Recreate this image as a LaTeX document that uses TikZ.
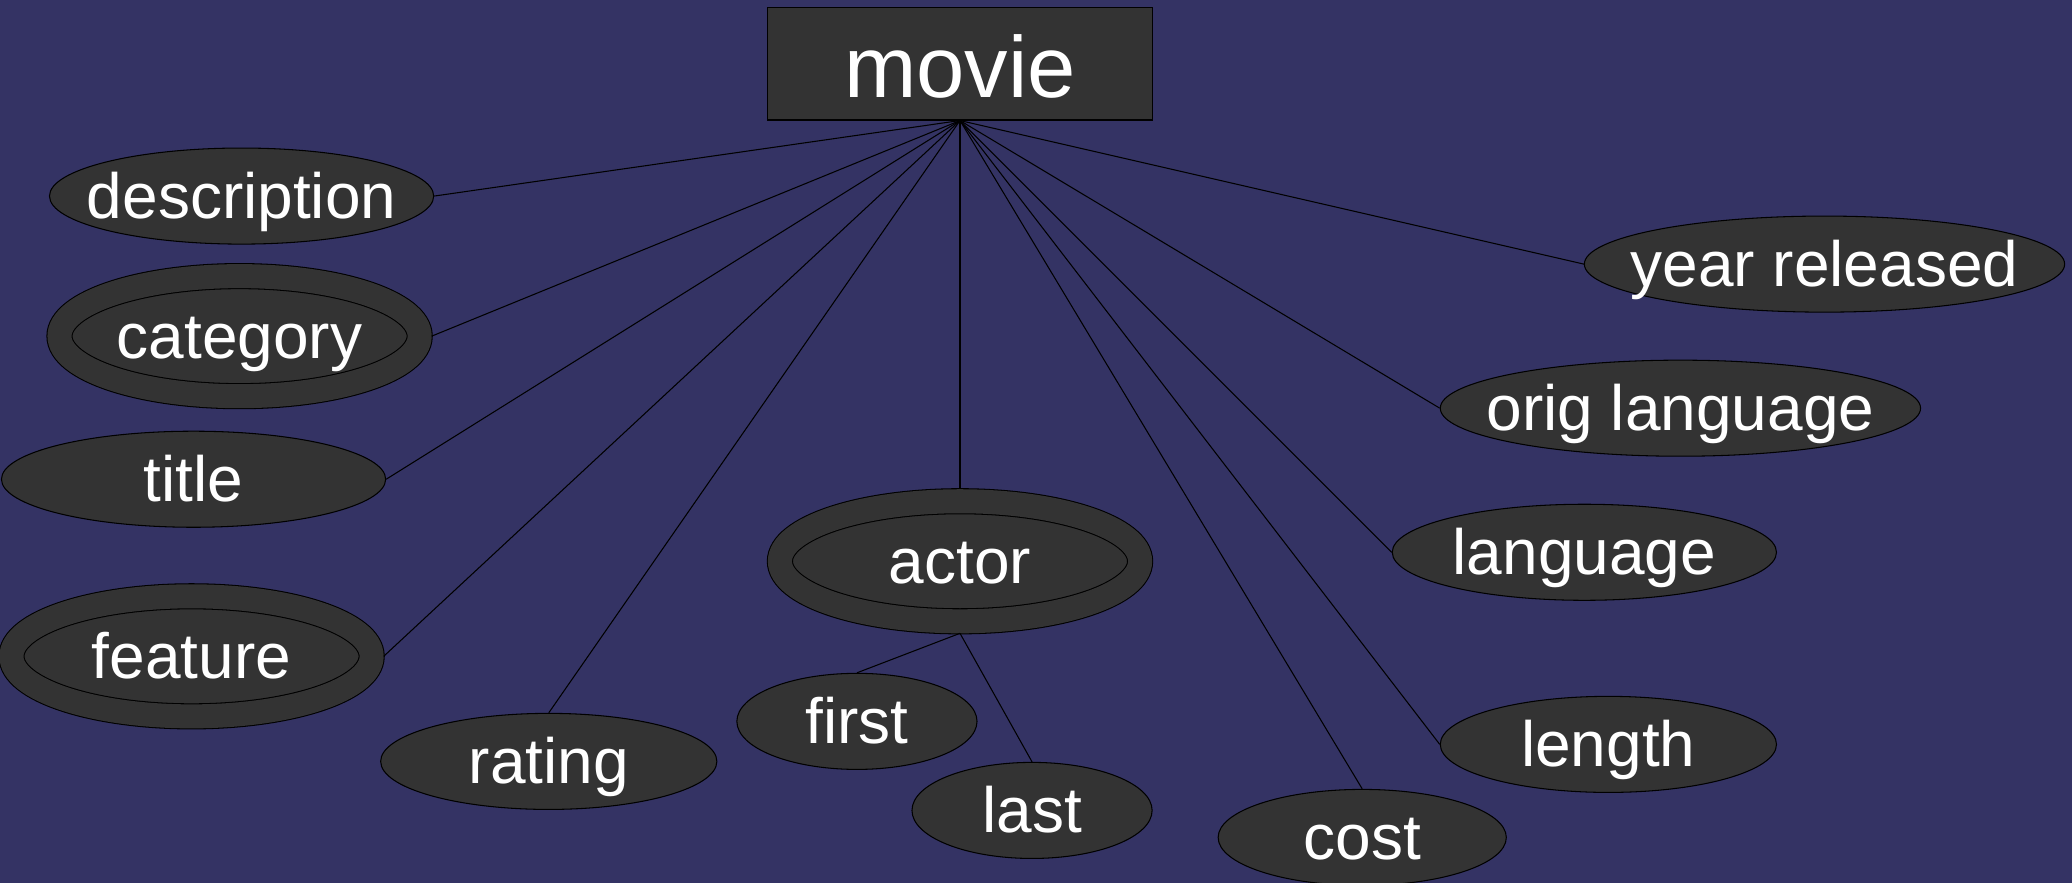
\documentclass[tikz,border=0pt]{standalone}
\usepackage{fontspec}
\setmainfont{Liberation Sans}
\usetikzlibrary{shapes.geometric,positioning}
\definecolor{bgblue}{RGB}{52,51,100}
\definecolor{ercell}{RGB}{51,51,51}
\newcommand{\moviefont}{\fontsize{24.7}{30}\selectfont}
\newcommand{\attrfont}{\fontsize{18.2}{22}\selectfont}
\tikzset{entity/.style={rectangle,draw=black,fill=ercell,text=white,font=\moviefont,
           minimum width=3.84cm,minimum height=1.12cm,inner sep=0pt,text height=0.66cm,text depth=0pt},
         attr/.style={ellipse,draw=black,fill=ercell,inner sep=0pt,minimum height=0.96cm},
         multi/.style={ellipse,draw=black,fill=ercell,double=ercell,double distance=0.24cm,
           inner sep=0pt,minimum width=3.6cm,minimum height=1.2cm,outer sep=0.12cm},
         every label/.style={text=white,font=\attrfont,inner sep=0pt,
           text height=0.5cm,text depth=0.06cm},
         link/.style={draw=black}}
\begin{document}
\begin{tikzpicture}[x=0.01cm,y=-0.01cm,on grid,line width=0.3pt]
  \fill[bgblue] (0,0) rectangle (2072,883);
  \useasboundingbox (0,0) rectangle (2072,883);
  \node[entity]                    (movie)  at (960,64)                          {movie};
  \node[attr,minimum width=3.84cm,label=center:description] (descr) [below left=1.32cm and 7.18cm of movie] {};
  \node[multi,label=center:category]                        (categ) [below left=2.72cm and 7.2cm of movie] {};
  \node[attr,minimum width=3.84cm,label=center:title]       (title) [below left=4.15cm and 7.66cm of movie] {};
  \node[multi,label=center:feature]                         (feat)  [below left=5.92cm and 7.68cm of movie] {};
  \node[attr,minimum width=3.36cm,label=center:rating]      (rating)[below left=6.97cm and 4.11cm of movie] {};
  \node[multi,label=center:actor]                           (actor) [below=4.97cm of movie]                 {};
  \node[attr,minimum width=2.4cm,label=center:first]        (first) [below left=1.6cm and 1.03cm of actor]  {};
  \node[attr,minimum width=2.4cm,label=center:last]         (last)  [below right=2.49cm and 0.72cm of actor] {};
  \node[attr,minimum width=2.88cm,label=center:cost]        (cost)  [below right=7.73cm and 4.02cm of movie] {};
  \node[attr,minimum width=3.36cm,label=center:length]      (length)[below right=6.8cm and 6.48cm of movie] {};
  \node[attr,minimum width=3.84cm,label=center:language]    (lang)  [below right=4.88cm and 6.24cm of movie] {};
  \node[attr,minimum width=4.8cm,label=center:orig language] (orig) [below right=3.44cm and 7.2cm of movie] {};
  \node[attr,minimum width=4.8cm,label=center:year released] (year) [below right=2cm and 8.64cm of movie] {};
  % attributes of movie
  \path (movie.south) edge [link] (descr.east)
        (movie.south) edge [link] (categ.east)
        (movie.south) edge [link] (title.east)
        (movie.south) edge [link] (feat.east)
        (movie.south) edge [link] (rating.north)
        (movie.south) edge [link] (actor.north)
        (movie.south) edge [link] (cost.north)
        (movie.south) edge [link] (length.west)
        (movie.south) edge [link] (lang.west)
        (movie.south) edge [link] (orig.west)
        (movie.south) edge [link] (year.west);
  % parts of actor
  \path (actor.south) edge [link] (first.north)
        (actor.south) edge [link] (last.north);
\end{tikzpicture}
\end{document}
